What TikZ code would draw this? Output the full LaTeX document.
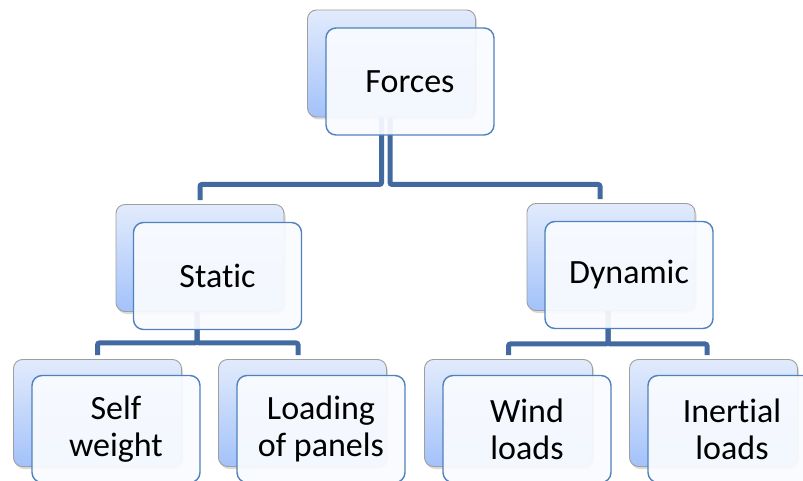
\documentclass[tikz,border=0pt]{standalone}
\usepackage{fontspec}
\setmainfont{Carlito}[Ligatures={NoCommon}]
\usetikzlibrary{positioning, calc, shadows, backgrounds}

\definecolor{backtop}{RGB}{226,235,252}
\definecolor{backbot}{RGB}{163,194,250}
\definecolor{frontfill}{RGB}{249,251,255}
\definecolor{frontline}{RGB}{79,129,189}
\definecolor{linkcol}{RGB}{66,106,160}

\begin{document}
\begin{tikzpicture}[
        x=1pt, y=-1pt,
        backbox/.style={rectangle, rounded corners=9pt, draw=gray!75, line width=0.9pt, top color=backtop, bottom color=backbot, minimum width=168pt, minimum height=107pt, drop shadow={shadow xshift=1.5pt, shadow yshift=-2.5pt, opacity=0.3}},
        frontbox/.style={rectangle, rounded corners=10pt, draw=frontline, line width=1.4pt, fill=frontfill, fill opacity=0.93, text opacity=1, minimum width=168pt, minimum height=107pt, align=center, font=\fontsize{34}{37}\selectfont},
        link/.style={draw=linkcol, line width=5pt, rounded corners=2pt, shorten >=4pt}
    ]
        \useasboundingbox (0,0) rectangle (803,481);
        \clip (0,0) rectangle (803,481);

        % 1. Top level
        \node (forcesB) [backbox] at (391.5,63.5) {};
        \node (forces) [frontbox] at ($(forcesB.center)+(18.5,18)$) {Forces};

        % 2. Second level
        \node (staticB) [backbox] at (200,258) {};
        \node (static) [frontbox] at ($(staticB.center)+(17.5,18)$) {Static};
        \node (dynamicB) [backbox] at (611,257) {};
        \node (dynamic) [frontbox] at ($(dynamicB.center)+(18,18)$) {Dynamic};

        % 3. Leaves
        \node (selfB) [backbox] at (97.5,413) {};
        \node (self) [frontbox] at ($(selfB.center)+(18.5,16)$) {Self\\weight};
        \node (loadB) [backbox] at (302.5,413) {};
        \node (load) [frontbox] at ($(loadB.center)+(18.5,16)$) {Loading\\of panels};
        \node (windB) [backbox] at (508.5,413) {};
        \node (wind) [frontbox] at ($(windB.center)+(18.5,16)$) {Wind\\loads};
        \node (inertB) [backbox] at (713.5,413) {};
        \node (inert) [frontbox] at ($(inertB.center)+(18.5,16)$) {Inertial\\loads};

        % Connections
        \begin{pgfonlayer}{background}
        \draw [link] ([xshift=-10pt]forcesB.south) -- ++(0,67) -| (staticB.north);
        \draw [link] ([xshift=-1.5pt]forcesB.south) -- ++(0,67) -| ([xshift=-11pt]dynamicB.north);

        \draw [link] ([xshift=-3pt]staticB.south) -- ++(0,31) -| (selfB.north);
        \draw [link] ([xshift=-3pt]staticB.south) -- ++(0,31) -| ([xshift=-4.5pt]loadB.north);
        \draw [link] ([xshift=-3pt]dynamicB.south) -- ++(0,33) -| (windB.north);
        \draw [link] ([xshift=-3pt]dynamicB.south) -- ++(0,33) -| ([xshift=-6.5pt]inertB.north);
        \end{pgfonlayer}
    \end{tikzpicture}
\end{document}
